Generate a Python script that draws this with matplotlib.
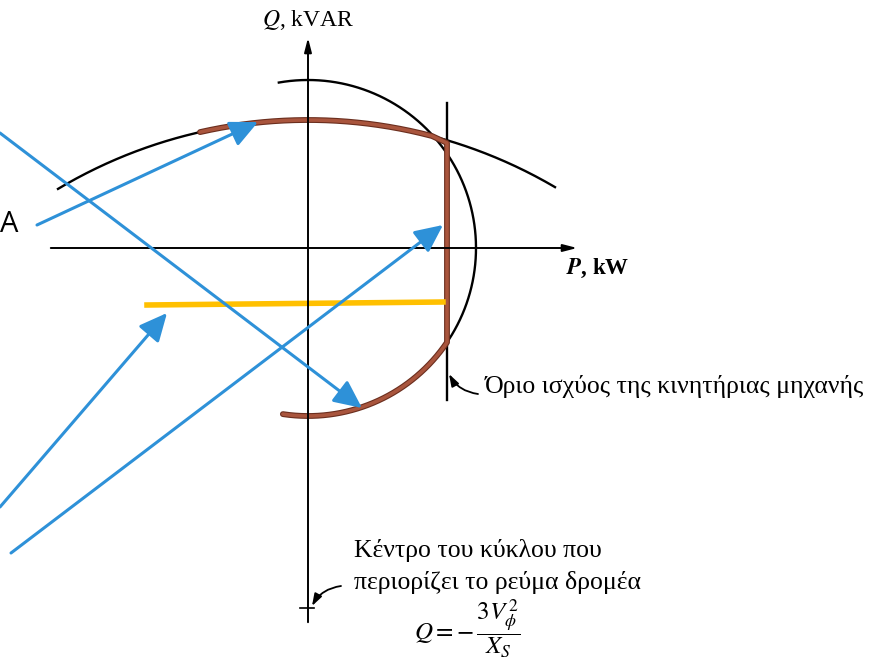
import numpy as np
import matplotlib.pyplot as plt

plt.rcParams['mathtext.fontset'] = 'stix'
serif = ['Liberation Serif', 'DejaVu Serif']

# geometry of the capability diagram (P along x, Q along y)
stator_r = 168          # stator current limit, circle about the origin
rotor_q0 = -360         # centre of the rotor current circle, Q = -3V^2/Xs
rotor_r = 488
p_max = 139             # prime mover power limit
rotor_arc_p = [-250, 247]
stator_arc_deg = [100, -95]
limit_line_q = [-152, 145]
p_axis = [-260, 272]
q_axis = [-377, 213]

# boundary of the allowed operating region
bound_rotor_p = [-108, 124]
bound_corner = [139, 105]
bound_stator_end_deg = -98.6

# highlight line and pointer arrows (tail -> head)
orange_p = [-161, 135]
orange_q = [-57, -54]
arrow_tails = [(-271, 23), (-308, 115), (-308, -259), (-297, -305)]
arrow_heads = [(-50, 126), (54, -160), (-141, -65), (135, 23)]

fig = plt.figure(figsize=(8.87, 6.65), dpi=100)
ax = fig.add_axes([0, 0, 1, 1])
ax.set_xlim(-308, 579)
ax.set_ylim(-417, 248)
ax.axis('off')


def rotor_q(p):
    p = np.asarray(p, dtype=float)
    return rotor_q0 + np.sqrt(rotor_r ** 2 - p ** 2)


# axes of the P-Q plane
ax.annotate('', xy=(p_axis[1], 0), xytext=(p_axis[0], 0),
            arrowprops=dict(arrowstyle='-|>,head_length=0.7,head_width=0.18',
                            color='black', lw=1.4, mutation_scale=12))
ax.annotate('', xy=(0, q_axis[1]), xytext=(0, q_axis[0]),
            arrowprops=dict(arrowstyle='-|>,head_length=0.7,head_width=0.18',
                            color='black', lw=1.4, mutation_scale=12))
ax.plot([-8, 6], [rotor_q0, rotor_q0], color='black', lw=1.2)

# rotor and stator limit circles, prime mover limit
pp = np.linspace(*rotor_arc_p, 300)
ax.plot(pp, rotor_q(pp), color='black', lw=1.7)
th = np.radians(np.linspace(*stator_arc_deg, 300))
ax.plot(stator_r * np.cos(th), stator_r * np.sin(th), color='black', lw=1.7)
ax.plot([p_max, p_max], limit_line_q, color='black', lw=1.7)

# operating region boundary
bp = np.linspace(*bound_rotor_p, 200)
q_low = -np.sqrt(stator_r ** 2 - p_max ** 2)
t0 = np.degrees(np.arctan2(q_low, p_max))
ts = np.radians(np.linspace(t0, bound_stator_end_deg, 200))
bx = np.concatenate([bp, [bound_corner[0], p_max], stator_r * np.cos(ts)])
by = np.concatenate([rotor_q(bp), [bound_corner[1], q_low], stator_r * np.sin(ts)])
ax.plot(bx, by, color='#6b2e1e', lw=4.2, solid_capstyle='round', solid_joinstyle='round')
ax.plot(bx, by, color='#a9553d', lw=2.6, solid_capstyle='round', solid_joinstyle='round')

ax.plot(orange_p, orange_q, color='#ffc000', lw=4)

for tail, head in zip(arrow_tails, arrow_heads):
    ax.annotate('', xy=head, xytext=tail,
                arrowprops=dict(arrowstyle='-|>,head_length=0.85,head_width=0.4',
                                color='#2e91d8', lw=2.2, mutation_scale=20,
                                shrinkA=0, shrinkB=0))

# labels
ax.text(-46, 228, '$Q$, kVAR', fontsize=17, family=serif, ha='left', va='center')
ax.text(258, -20, r'$\boldsymbol{P}$, kW', fontsize=16.5, family=serif, weight='bold',
        ha='left', va='center')
ax.text(-308, 23, 'A', fontsize=21, family=['Open Sans', 'DejaVu Sans'], ha='left', va='center')

ax.text(177, -138, 'Όριο ισχύος της κινητήριας μηχανής', fontsize=18.5, family=serif,
        ha='left', va='center')
ax.annotate('', xy=(p_max + 2, -126), xytext=(170, -146),
            arrowprops=dict(arrowstyle='-|>,head_length=0.6,head_width=0.2',
                            color='black', lw=1.3, mutation_scale=12,
                            connectionstyle='arc3,rad=-0.25', shrinkA=0, shrinkB=0))

ax.text(46, -302, 'Κέντρο του κύκλου που', fontsize=18.5, family=serif, ha='left', va='center')
ax.text(46, -334, 'περιορίζει το ρεύμα δρομέα', fontsize=18.5, family=serif,
        ha='left', va='center')
ax.annotate('', xy=(4, rotor_q0 + 2), xytext=(33, -338),
            arrowprops=dict(arrowstyle='-|>,head_length=0.6,head_width=0.2',
                            color='black', lw=1.3, mutation_scale=12,
                            connectionstyle='arc3,rad=0.25', shrinkA=0, shrinkB=0))
ax.text(106, -381, r'$Q = -\,\dfrac{3V_{\phi}^{\,2}}{X_S}$', fontsize=18, ha='left',
        va='center')

fig.savefig('out.png', dpi=100, facecolor='white')
